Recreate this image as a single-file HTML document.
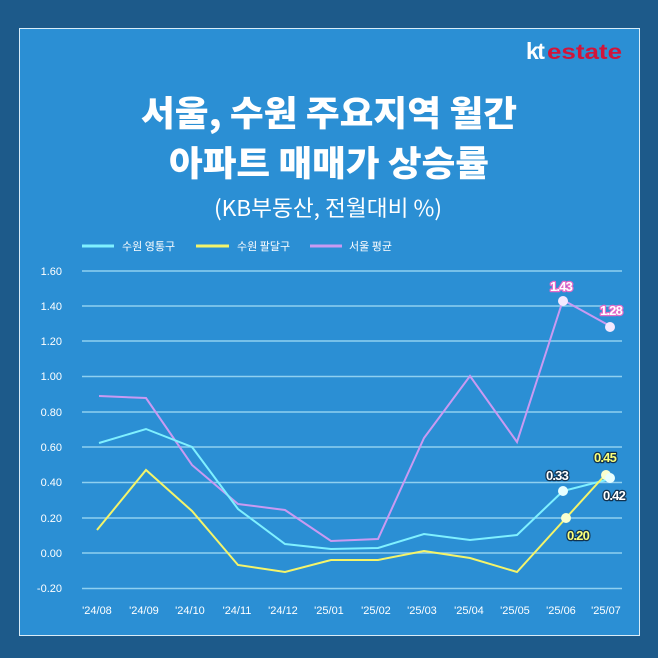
<!DOCTYPE html>
<html><head><meta charset="utf-8"><style>
body{margin:0;width:658px;height:658px;background:#1d5a8a;overflow:hidden;font-family:"Liberation Sans","Noto Sans CJK KR",sans-serif}
</style></head><body>
<svg width="658" height="658" viewBox="0 0 658 658" xmlns="http://www.w3.org/2000/svg" style="position:absolute;left:0;top:0">
<rect x="0" y="0" width="658" height="658" fill="#1d5a8a"/>
<rect x="19.5" y="28.5" width="620" height="607" fill="#2b8fd4" stroke="#d8ecf8" stroke-width="1"/>
<text x="526" y="59" font-size="23" font-weight="bold" fill="#fff" font-family="Liberation Sans, sans-serif" letter-spacing="-1.5">kt</text>
<text x="547" y="59" font-size="21" font-weight="bold" fill="#d2143a" font-family="Liberation Sans Narrow, Liberation Sans, sans-serif" textLength="75" lengthAdjust="spacingAndGlyphs">estate</text>
<g font-family="Noto Sans CJK KR, sans-serif" font-weight="900" fill="#fff" text-anchor="middle">
<text x="329" y="126" font-size="35" textLength="376" lengthAdjust="spacingAndGlyphs">서울, 수원 주요지역 월간</text>
<text x="329" y="176" font-size="35" textLength="320" lengthAdjust="spacingAndGlyphs">아파트 매매가 상승률</text>
<text x="328" y="216" font-size="22" font-weight="400" textLength="228" lengthAdjust="spacingAndGlyphs">(KB부동산, 전월대비 %)</text>
</g>
<g font-family="Noto Sans CJK KR, sans-serif" font-size="11" fill="#fff">
<line x1="82" y1="246" x2="114" y2="246" stroke="#7ff0ff" stroke-width="3"/><text x="122" y="250">수원 영통구</text>
<line x1="196" y1="246" x2="229" y2="246" stroke="#f4f46a" stroke-width="3"/><text x="237" y="250">수원 팔달구</text>
<line x1="310" y1="246" x2="342" y2="246" stroke="#c99af2" stroke-width="3"/><text x="349" y="250">서울 평균</text>
</g>
<g stroke="#8fd0f0" stroke-width="1.5">
<line x1="82" x2="622" y1="271" y2="271"/><line x1="82" x2="622" y1="306" y2="306"/><line x1="82" x2="622" y1="341" y2="341"/><line x1="82" x2="622" y1="376.5" y2="376.5"/><line x1="82" x2="622" y1="412" y2="412"/><line x1="82" x2="622" y1="447" y2="447"/><line x1="82" x2="622" y1="482.5" y2="482.5"/><line x1="82" x2="622" y1="518" y2="518"/><line x1="82" x2="622" y1="553" y2="553"/><line x1="82" x2="622" y1="588.5" y2="588.5"/>
</g>
<g font-size="11" fill="#fff" text-anchor="end">
<text x="62" y="275">1.60</text><text x="62" y="310">1.40</text><text x="62" y="345">1.20</text><text x="62" y="380">1.00</text><text x="62" y="416">0.80</text><text x="62" y="451">0.60</text><text x="62" y="486">0.40</text><text x="62" y="522">0.20</text><text x="62" y="557">0.00</text><text x="62" y="592">-0.20</text>
</g>
<g font-size="11" fill="#fff" text-anchor="middle">
<text x="97" y="614">'24/08</text><text x="144" y="614">'24/09</text><text x="190" y="614">'24/10</text><text x="237" y="614">'24/11</text><text x="283" y="614">'24/12</text><text x="329" y="614">'25/01</text><text x="376" y="614">'25/02</text><text x="422" y="614">'25/03</text><text x="469" y="614">'25/04</text><text x="515" y="614">'25/05</text><text x="561" y="614">'25/06</text><text x="606" y="614">'25/07</text>
</g>
<polyline fill="none" stroke="#c99af2" stroke-width="2" points="99,396 146,398 192,465 238,504 285,510 331,541 378,539 424,438 470,376 517,442 563,300 610,326"/>
<polyline fill="none" stroke="#7ff0ff" stroke-width="2" points="99,443 146,429 192,447 238,509 285,544 331,549 378,548 424,534 470,540 517,535 563,491 610,479"/>
<polyline fill="none" stroke="#f4f46a" stroke-width="2" points="97,530 146,470 192,511 238,565 285,572 331,560 378,560 424,551 470,558 517,572 566,518 606,474"/>
<g stroke="none">
<circle cx="563" cy="301" r="5" fill="#f4e9ff"/><circle cx="610" cy="327" r="5" fill="#f4e9ff"/>
<circle cx="563" cy="491" r="5" fill="#e8ffff"/><circle cx="566" cy="518" r="5" fill="#fbffcf"/>
<circle cx="606" cy="475" r="5" fill="#fbffcf"/><circle cx="610" cy="478" r="5" fill="#e8ffff"/>
</g>
<g font-size="13" font-weight="bold" stroke-width="2.5" paint-order="stroke" stroke-linejoin="round" letter-spacing="-0.8">
<text x="561" y="291" text-anchor="middle" fill="#fff" stroke="#e36ac8">1.43</text>
<text x="611" y="315" text-anchor="middle" fill="#fff" stroke="#e36ac8">1.28</text>
<text x="557" y="480" text-anchor="middle" fill="#fff" stroke="#11324f">0.33</text>
<text x="605" y="462" text-anchor="middle" fill="#fbff7a" stroke="#11324f">0.45</text>
<text x="614" y="500" text-anchor="middle" fill="#fff" stroke="#11324f">0.42</text>
<text x="578" y="540" text-anchor="middle" fill="#fbff7a" stroke="#11324f">0.20</text>
</g>
</svg>
</body></html>
